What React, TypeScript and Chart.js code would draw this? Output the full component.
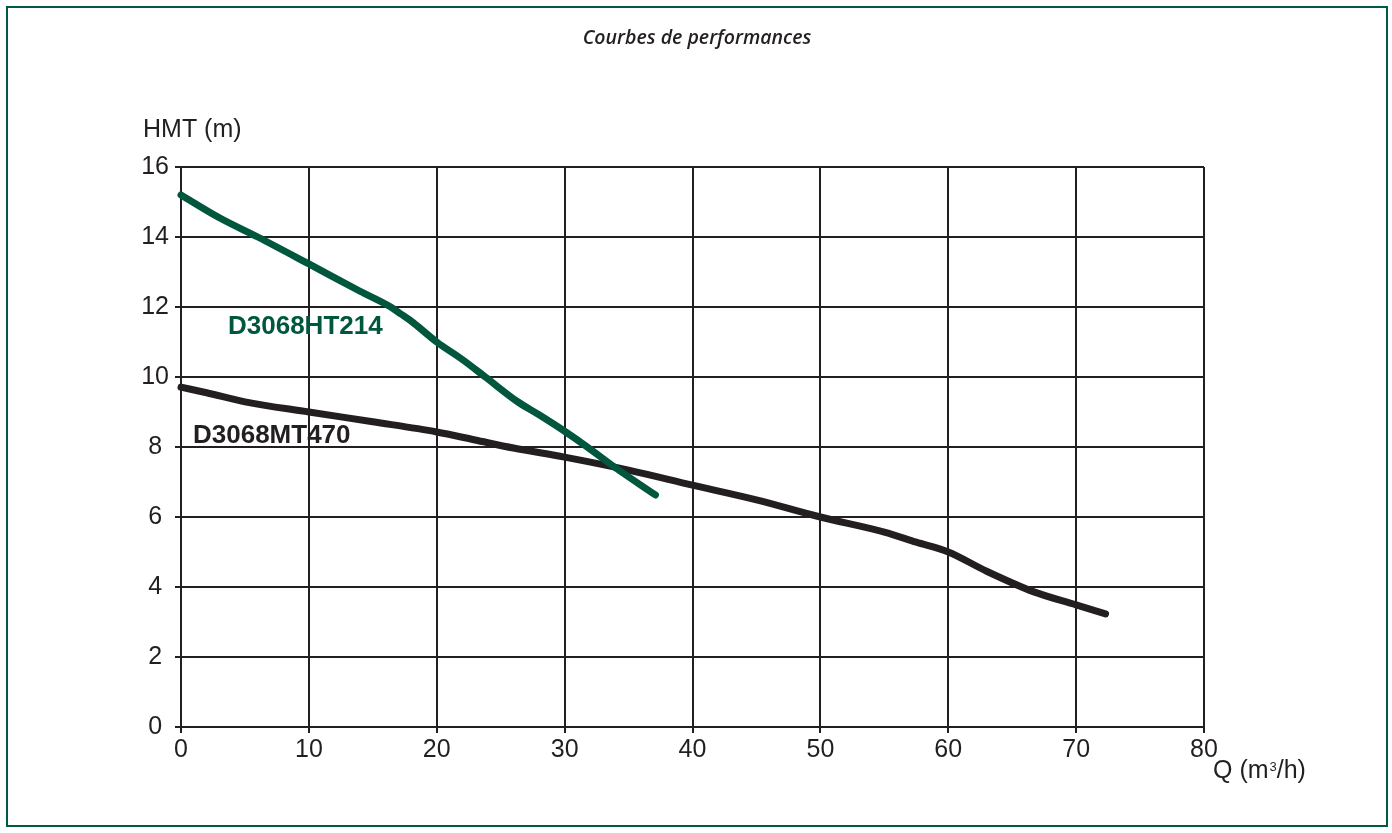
import React, { useEffect, useRef } from "react";
import { Chart, registerables } from "chart.js";

Chart.register(...registerables);

// ---- data ----
const flowHT = [0, 3, 6, 10, 14, 16.4, 17.2, 18.2, 20, 22, 23.8, 26.3, 28, 30, 31.7, 34, 37.1];
const headHT = [15.2, 14.55, 14.0, 13.23, 12.45, 12.0, 11.8, 11.54, 11.0, 10.5, 10.0, 9.3, 8.92, 8.45, 8.02, 7.4, 6.63];
const flowMT = [0, 2, 5, 10, 15, 20, 23, 26, 30, 35, 40, 45, 50, 55, 57.5, 60, 63, 66.7, 70, 72.3];
const headMT = [9.71, 9.55, 9.29, 9.0, 8.72, 8.43, 8.2, 7.97, 7.71, 7.34, 6.91, 6.49, 6.0, 5.57, 5.28, 5.0, 4.45, 3.86, 3.49, 3.23];
const xTicks = [0, 10, 20, 30, 40, 50, 60, 70, 80];
const yTicks = [0, 2, 4, 6, 8, 10, 12, 14, 16];
const seriesNames = ["D3068HT214", "D3068MT470"];
const chartTitle = "Courbes de performances";
const yTitle = "HMT (m)";

const GREEN = "#00573d";
const BORDER_GREEN = "#005a45";
const DARK = "#231f20";

const decor = {
  id: "decor",
  afterDraw(chart: any) {
    const { ctx, chartArea: a } = chart;
    ctx.save();
    // frame
    ctx.strokeStyle = BORDER_GREEN;
    ctx.lineWidth = 2;
    ctx.strokeRect(7, 7, 1380, 819);
    // title
    ctx.fillStyle = DARK;
    ctx.textBaseline = "alphabetic";
    ctx.textAlign = "center";
    ctx.font = 'italic 600 19.5px "Open Sans"';
    ctx.fillText(chartTitle, 697, 44);
    // y title
    ctx.textAlign = "left";
    ctx.font = '25px "Liberation Sans"';
    ctx.fillText(yTitle, a.left - 38, a.top - 30);
    // x title Q (m3/h)
    let x = a.right + 9;
    const yb = a.bottom + 51;
    ctx.font = '25px "Liberation Sans"';
    ctx.fillText("Q (m", x, yb);
    x += ctx.measureText("Q (m").width + 1;
    ctx.font = '13px "Liberation Sans"';
    ctx.fillText("3", x, yb - 7);
    x += ctx.measureText("3").width;
    ctx.font = '25px "Liberation Sans"';
    ctx.fillText("/h)", x, yb);
    // series labels
    ctx.font = 'bold 26px "Liberation Sans"';
    ctx.fillStyle = GREEN;
    ctx.fillText(seriesNames[0], a.left + 47, a.top + 167);
    ctx.fillStyle = DARK;
    ctx.fillText(seriesNames[1], a.left + 12, a.top + 276);
    ctx.restore();
  },
};

export default function App() {
  const ref = useRef<HTMLCanvasElement>(null);
  useEffect(() => {
    if (!ref.current) return;
    const chart = new Chart(ref.current, {
      type: "line",
      data: {
        datasets: [
          {
            label: seriesNames[0],
            data: flowHT.map((q, i) => ({ x: q, y: headHT[i] })),
            borderColor: GREEN,
            borderWidth: 7,
            borderCapStyle: "round",
            borderJoinStyle: "round",
            pointRadius: 0,
            cubicInterpolationMode: "monotone",
            clip: false as any,
          },
          {
            label: seriesNames[1],
            data: flowMT.map((q, i) => ({ x: q, y: headMT[i] })),
            borderColor: DARK,
            borderWidth: 7,
            borderCapStyle: "round",
            borderJoinStyle: "round",
            pointRadius: 0,
            cubicInterpolationMode: "monotone",
            clip: false as any,
          },
        ],
      },
      options: {
        animation: false,
        responsive: false,
        maintainAspectRatio: false,
        layout: { padding: { left: 0, top: 167, right: 188, bottom: 66 } },
        plugins: { legend: { display: false }, tooltip: { enabled: false } },
        scales: {
          x: {
            type: "linear",
            min: 0,
            max: 80,
            afterBuildTicks: (s: any) => {
              s.ticks = xTicks.map((v) => ({ value: v }));
            },
            afterFit: (s: any) => {
              s.height = 40;
            },
            grid: { color: DARK, lineWidth: 2, tickLength: 6, drawTicks: true },
            border: { color: DARK, width: 2 },
            ticks: { color: DARK, font: { family: "Liberation Sans", size: 25 }, padding: 2, maxRotation: 0, autoSkip: false },
          },
          y: {
            type: "linear",
            min: 0,
            max: 16,
            afterBuildTicks: (s: any) => {
              s.ticks = yTicks.map((v) => ({ value: v }));
            },
            afterFit: (s: any) => {
              s.width = 181;
            },
            grid: { color: DARK, lineWidth: 2, tickLength: 6 },
            border: { color: DARK, width: 2 },
            ticks: { color: DARK, font: { family: "Liberation Sans", size: 25 }, padding: 6, crossAlign: "center", autoSkip: false },
          },
        },
      },
      plugins: [decor],
    });
    return () => chart.destroy();
  }, []);
  return (
    <div style={{ position: "fixed", left: 0, top: 0, width: 1392, height: 833, background: "#fff" }}>
      <canvas ref={ref} width={1392} height={833} style={{ width: 1392, height: 833 }} />
    </div>
  );
}
